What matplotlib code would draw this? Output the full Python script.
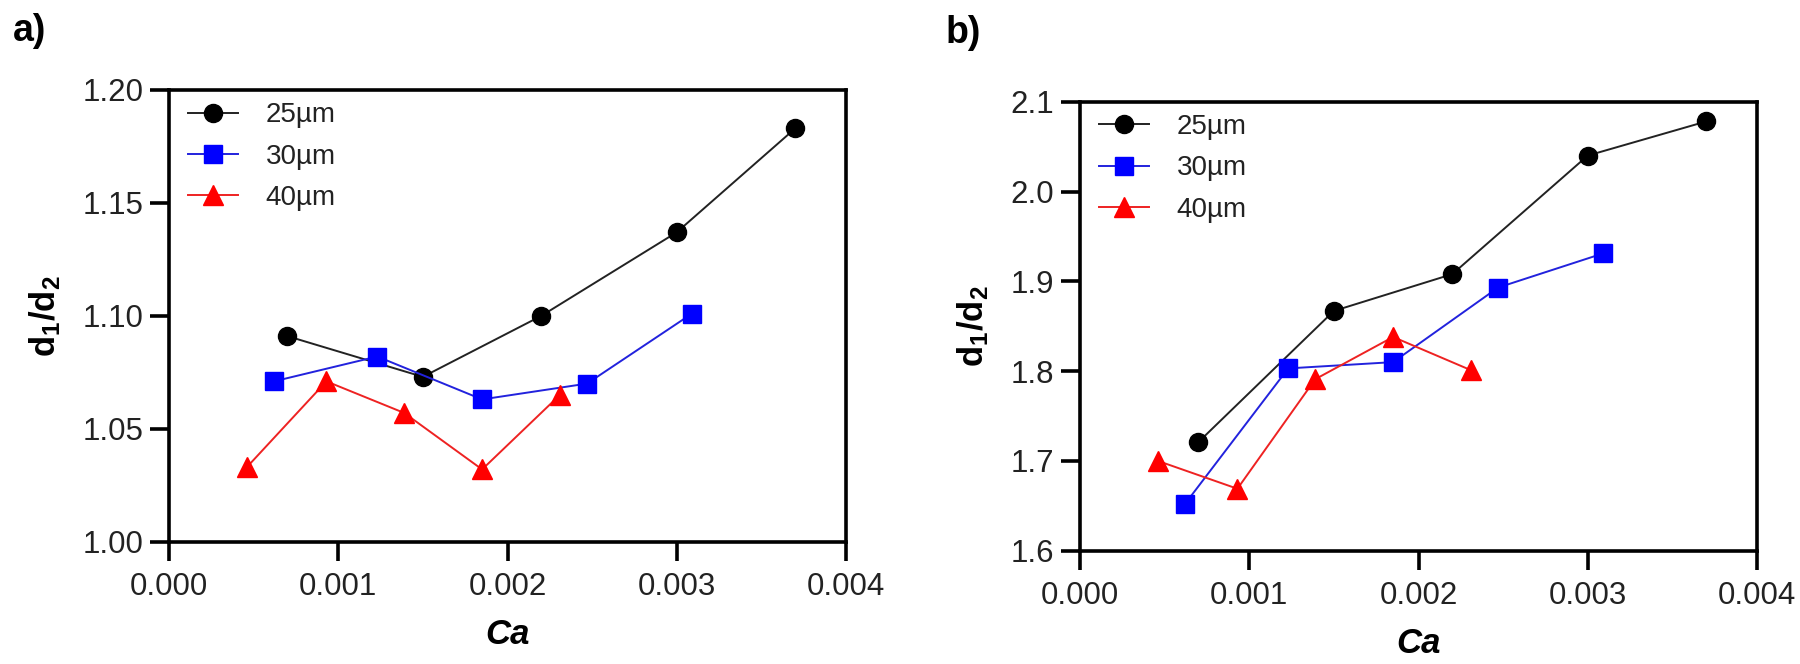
import matplotlib
matplotlib.use("Agg")
import matplotlib.pyplot as plt
from matplotlib.ticker import FormatStrFormatter

plt.rcParams['font.family'] = ['Liberation Sans', 'DejaVu Sans']
plt.rcParams['mathtext.fontset'] = 'custom'
plt.rcParams['mathtext.rm'] = 'Liberation Sans'
plt.rcParams['mathtext.bf'] = 'Liberation Sans:bold'
plt.rcParams['mathtext.it'] = 'Liberation Sans:italic'

# ---- data ----
labels = ["25\u00b5m", "30\u00b5m", "40\u00b5m"]
ca_25 = [0.00070, 0.00150, 0.00220, 0.00300, 0.00370]
ca_30 = [0.00062, 0.00123, 0.00185, 0.00247, 0.00309]
ca_40 = [0.00046, 0.00093, 0.00139, 0.00185, 0.00231]

a_25 = [1.091, 1.073, 1.100, 1.137, 1.183]
a_30 = [1.071, 1.082, 1.063, 1.070, 1.101]
a_40 = [1.033, 1.071, 1.057, 1.032, 1.065]

b_25 = [1.721, 1.867, 1.908, 2.040, 2.078]
b_30 = [1.652, 1.803, 1.810, 1.893, 1.931]
b_40 = [1.700, 1.669, 1.791, 1.838, 1.801]

x_ticks = [0.000, 0.001, 0.002, 0.003, 0.004]
a_yticks = [1.00, 1.05, 1.10, 1.15, 1.20]
b_yticks = [1.6, 1.7, 1.8, 1.9, 2.0, 2.1]

colors = ["#000000", "#0000ff", "#ff0000"]
line_colors = ["#222222", "#2222dd", "#ee2222"]
markers = ["o", "s", "^"]
msizes = [13, 13.5, 14]

W, H = 1800, 664
fig = plt.figure(figsize=(W / 100, H / 100), dpi=100)

def px_axes(l, t, r, b):
    return fig.add_axes([l / W, 1 - b / H, (r - l) / W, (b - t) / H])

ax_a = px_axes(169, 90, 846, 541.7)
ax_b = px_axes(1080, 101.7, 1757, 550.7)

def style(ax, ys, yticks, yfmt, ylim):
    for (xs, yv), c, lc, m, ms, lab in zip(ys, colors, line_colors, markers, msizes, labels):
        ax.plot(xs, yv, color=lc, marker=m, markersize=ms, linewidth=1.4,
                markerfacecolor=c, markeredgecolor=c, label=lab,
                clip_on=False, zorder=3)
    ax.set_xlim(0, 0.004)
    ax.set_ylim(*ylim)
    ax.set_xticks(x_ticks)
    ax.set_yticks(yticks)
    ax.xaxis.set_major_formatter(FormatStrFormatter('%.3f'))
    ax.yaxis.set_major_formatter(FormatStrFormatter(yfmt))
    for s in ax.spines.values():
        s.set_linewidth(2.6)
    ax.tick_params(axis='both', direction='out', length=13.5, width=2.6,
                   labelsize=22.5, labelcolor='#222222', pad=5)
    ax.tick_params(axis='x', pad=8)
    ax.set_xlabel('Ca', fontsize=25, fontweight='bold', fontstyle='italic', labelpad=12)
    ax.set_ylabel(r'$\mathbf{d_1/d_2}$', fontsize=25, labelpad=14)
    leg = ax.legend(loc='upper left', bbox_to_anchor=(0.02, 0.985), frameon=False,
                    fontsize=20, handlelength=1.8, handletextpad=1.0,
                    labelspacing=0.55, borderaxespad=0, borderpad=0.2)
    for t in leg.get_texts():
        t.set_color('#222222')

style(ax_a, [(ca_25, a_25), (ca_30, a_30), (ca_40, a_40)], a_yticks, '%.2f', (1.0, 1.2))
style(ax_b, [(ca_25, b_25), (ca_30, b_30), (ca_40, b_40)], b_yticks, '%.1f', (1.6, 2.1))

fig.text(13 / W, 1 - 31 / H, 'a)', fontsize=27, fontweight='bold', ha='left', va='center')
fig.text(946 / W, 1 - 33 / H, 'b)', fontsize=27, fontweight='bold', ha='left', va='center')

fig.savefig('out.png', dpi=100, facecolor='white')
